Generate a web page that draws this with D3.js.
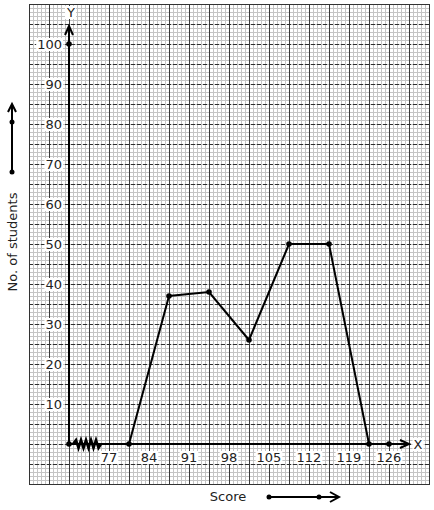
<!DOCTYPE html>
<html><head><meta charset="utf-8">
<script src="https://cdn.jsdelivr.net/npm/d3@7"></script>
<style>body{margin:0;background:#fff}svg{display:block}text{font-family:"DejaVu Sans",sans-serif}</style>
</head><body>
<svg id="c" width="434" height="510"></svg>
<script>
const xTickLabels = [77, 84, 91, 98, 105, 112, 119, 126];
const yTickLabels = [10, 20, 30, 40, 50, 60, 70, 80, 90, 100];
const classMarks = [80.5, 87.5, 94.5, 101.5, 108.5, 115.5, 122.5];
const students = [0, 37, 38, 26, 50, 50, 0];
const extraAxisDots = [126];

const svg = d3.select("#c");
const x = d3.scaleLinear().domain([70, 140]).range([69, 469]);
const y = d3.scaleLinear().domain([0, 100]).range([444, 44]);

const L = 29, R = 429, T = 4, B = 484;
const g = svg.append("g");
// minor grid
d3.range(L, R + 1, 4).forEach(px => g.append("line").attr("x1", px + .5).attr("x2", px + .5).attr("y1", T).attr("y2", B).attr("stroke", "#c4c4c4").attr("stroke-width", 1));
d3.range(T, B + 1, 4).forEach(py => g.append("line").attr("y1", py + .5).attr("y2", py + .5).attr("x1", L).attr("x2", R).attr("stroke", "#c4c4c4").attr("stroke-width", 1));
// major grid
d3.range(L, R + 1, 20).forEach(px => g.append("line").attr("x1", px + .5).attr("x2", px + .5).attr("y1", T).attr("y2", B).attr("stroke", "#3a3a3a").attr("stroke-width", 1));
d3.range(T, B + 1, 20).forEach(py => g.append("line").attr("y1", py + .5).attr("y2", py + .5).attr("x1", L).attr("x2", R).attr("stroke", "#2e2e2e").attr("stroke-width", 1).attr("stroke-dasharray", (py === T || py === B) ? null : "4,2"));
g.append("rect").attr("x", L + .5).attr("y", T + .5).attr("width", R - L).attr("height", B - T).attr("fill", "none").attr("stroke", "#333");

// labels with white backgrounds
function label(tx, ty, txt, anchor) {
  const t = svg.append("text").attr("x", tx).attr("y", ty).attr("text-anchor", anchor).attr("font-size", 13).attr("fill", "#222").text(txt);
  const bb = t.node().getBBox();
  svg.insert("rect", () => t.node()).attr("x", bb.x - 1).attr("y", bb.y + 1).attr("width", bb.width + 2).attr("height", bb.height - 2).attr("fill", "#fff");
}
yTickLabels.forEach(v => label(62, y(v) + 5, v, "end"));
xTickLabels.forEach(v => label(x(v), y(0) + 18, v, "middle"));
label(x(70) + 2, 17, "Y", "middle");
label(418, y(0) + 5, "X", "middle");

// axes
const ax = svg.append("g").attr("stroke", "#000").attr("fill", "none").attr("stroke-width", 2);
ax.append("line").attr("x1", x(70)).attr("x2", x(70)).attr("y1", y(0)).attr("y2", 26);
ax.append("path").attr("d", `M${x(70) - 4},35 L${x(70)},26 L${x(70) + 4},35`);
ax.append("line").attr("x1", x(70)).attr("x2", 408).attr("y1", y(0)).attr("y2", y(0));
ax.append("path").attr("d", `M400,${y(0) - 4} L409,${y(0)} L400,${y(0) + 4}`);
// zigzag break
let zz = `M${x(70) + 4},${y(0)}`;
for (let i = 0; i < 5; i++) { const bx = x(70) + 7 + i * 5; zz += ` L${bx},${y(0) - 4} L${bx + 2.5},${y(0) + 4}`; }
zz += ` L${x(70) + 32},${y(0)}`;
ax.append("path").attr("d", zz).attr("stroke-width", 2.6);

// frequency polygon
const line = d3.line().x((d, i) => x(classMarks[i])).y(d => y(d));
svg.append("path").datum(students).attr("d", line).attr("fill", "none").attr("stroke", "#000").attr("stroke-width", 2);
svg.selectAll("circle.p").data(students).join("circle").attr("cx", (d, i) => x(classMarks[i])).attr("cy", d => y(d)).attr("r", 2.8).attr("fill", "#000");
extraAxisDots.forEach(v => svg.append("circle").attr("cx", x(v)).attr("cy", y(0)).attr("r", 2.8));
svg.append("circle").attr("cx", x(70)).attr("cy", y(0)).attr("r", 2.8);
svg.append("circle").attr("cx", x(70)).attr("cy", y(100)).attr("r", 2.8);

// axis titles
svg.append("text").attr("transform", "translate(17,242) rotate(-90)").attr("text-anchor", "middle").attr("font-size", 13).attr("fill", "#222").text("No. of students");
const ya = svg.append("g").attr("stroke", "#000").attr("fill", "none").attr("stroke-width", 2);
ya.append("line").attr("x1", 12).attr("x2", 12).attr("y1", 172).attr("y2", 105);
ya.append("path").attr("d", "M8,112 L12,104 L16,112");
svg.append("circle").attr("cx", 12).attr("cy", 172).attr("r", 2.5);
svg.append("circle").attr("cx", 12).attr("cy", 122).attr("r", 2.5);

svg.append("text").attr("x", 228).attr("y", 501).attr("text-anchor", "middle").attr("font-size", 13).attr("fill", "#222").text("Score");
const xa = svg.append("g").attr("stroke", "#000").attr("fill", "none").attr("stroke-width", 2);
xa.append("line").attr("x1", 269).attr("x2", 338).attr("y1", 497).attr("y2", 497);
xa.append("path").attr("d", "M330,492 L339,497 L330,502");
svg.append("circle").attr("cx", 269).attr("cy", 497).attr("r", 2.5);
svg.append("circle").attr("cx", 319).attr("cy", 497).attr("r", 2.5);
</script>
</body></html>
